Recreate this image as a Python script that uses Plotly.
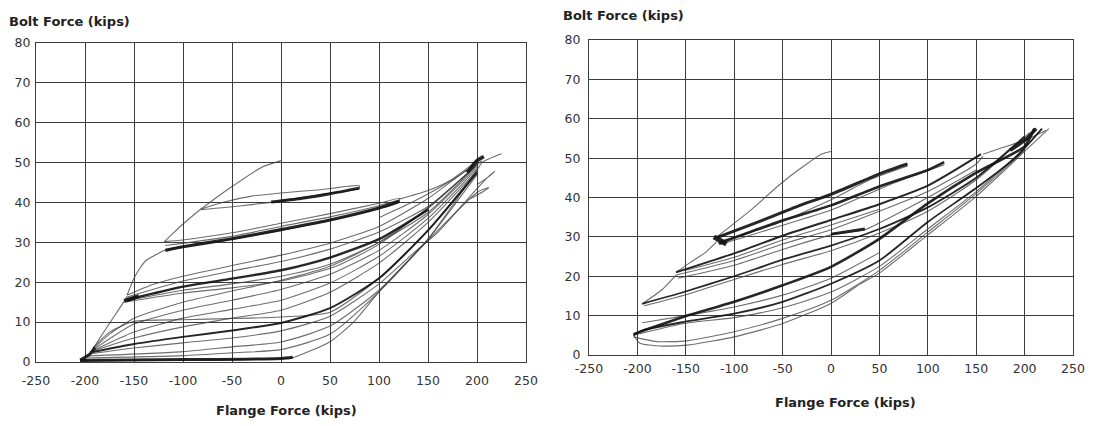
import plotly.graph_objects as go

# ---------------- axis ticks ----------------
x_tick_vals = [-250, -200, -150, -100, -50, 0, 50, 100, 150, 200, 250]
x_tick_text = ["-250", "-200", "-150", "-100", "-50", "0", "50", "100", "150", "200", "250"]
y_tick_vals = [0, 10, 20, 30, 40, 50, 60, 70, 80]
y_tick_text = ["0", "10", "20", "30", "40", "50", "60", "70", "80"]

# ---------------- LEFT chart curves (Flange force, Bolt force) ----------------
l_virgin_x = [0, -20, -50, -70, -82]
l_virgin_y = [50.5, 48.8, 44.0, 40.5, 38.3]

l_band1_x = [-82, -60, -30, 0, 40, 80, 79, 40, 0, -40, -82]
l_band1_y = [38.3, 40.0, 41.6, 42.4, 43.2, 44.2, 43.4, 42.0, 40.4, 39.2, 38.2]
l_band1_thick_x = [-10, 20, 50, 80]
l_band1_thick_y = [40.1, 41.0, 42.2, 43.6]

l_trans1_x = [-82, -92, -100, -110, -119]
l_trans1_y = [38.3, 36.3, 34.6, 32.3, 30.2]

l_band2_x = [-119, -100, -50, 0, 50, 100, 121, 120, 100, 50, 0, -50, -100, -119]
l_band2_y = [30.2, 30.6, 32.4, 34.8, 37.2, 39.8, 41.0, 40.0, 38.5, 35.5, 33.0, 30.8, 29.0, 28.0]
l_band2_thick_x = [-118, -100, -50, 0, 50, 100, 121]
l_band2_thick_y = [28.0, 28.9, 30.9, 33.2, 35.6, 38.6, 40.3]
l_band2_mid_x = [-118, -50, 0, 50, 100, 120]
l_band2_mid_y = [29.2, 31.5, 34.0, 36.4, 39.2, 40.6]

l_trans2_x = [-119, -130, -138, -144, -150, -157]
l_trans2_y = [28.0, 26.6, 25.4, 23.5, 21.0, 16.8]

l_b3a_x = [-157, -130, -100, -50, 0, 50, 100, 150, 175, 200]
l_b3a_y = [16.8, 19.5, 21.5, 24.2, 26.8, 29.8, 34.0, 41.0, 45.5, 50.0]
l_b3b_x = [-157, -100, -50, 0, 50, 100, 150, 200]
l_b3b_y = [16.3, 20.3, 22.8, 25.2, 28.3, 32.6, 39.0, 49.5]
l_b3c_x = [-157, -130, -100, -50, 0, 50, 100, 150]
l_b3c_y = [15.6, 17.2, 18.9, 20.9, 23.0, 26.2, 30.8, 38.2]
l_b3d_x = [-157, -100, -50, 0, 50, 100, 150, 200]
l_b3d_y = [15.4, 18.0, 19.6, 21.5, 24.5, 30.0, 37.5, 49.5]
l_b3e_x = [-157, -100, -50, 0, 54, 100, 154, 205]
l_b3e_y = [15.1, 17.3, 18.6, 20.3, 23.8, 29.5, 39.5, 50.5]
l_b3_blob_x = [-160, -145]
l_b3_blob_y = [15.3, 16.5]

l_trans3_x = [-157, -166, -175, -183, -191]
l_trans3_y = [16.4, 13.0, 9.7, 6.7, 3.6]

l_f1_x = [-192, -175, -150, -100, -50, 0, 50, 100, 150, 200]
l_f1_y = [3.2, 7.0, 11.0, 15.0, 17.8, 20.5, 24.0, 30.0, 38.5, 49.5]
l_f2_x = [-192, -150, -100, -50, 0, 50, 100, 150, 200]
l_f2_y = [3.0, 9.5, 13.0, 15.5, 18.2, 22.0, 28.0, 37.0, 49.0]
l_f3_x = [-192, -150, -100, -50, 0, 50, 100, 150, 200]
l_f3_y = [2.8, 7.5, 11.0, 13.2, 15.5, 19.8, 26.5, 36.0, 48.5]
l_f4_x = [-195, -150, -100, -50, 0, 50, 100, 150, 200]
l_f4_y = [2.5, 6.0, 8.8, 11.0, 13.0, 17.5, 24.8, 35.0, 48.0]
l_f5_x = [200, 150, 100, 50, 0, -50, -100, -150, -175, -192]
l_f5_y = [48.0, 33.0, 21.0, 12.5, 11.3, 10.9, 10.6, 10.2, 7.5, 3.5]
l_f6_x = [-192, -150, -100, -50, 0, 50, 100, 150, 200]
l_f6_y = [2.5, 4.5, 6.3, 7.9, 9.8, 13.5, 21.0, 33.0, 47.5]
l_f7_x = [-195, -150, -100, -50, 0, 50, 100, 136, 160, 200, 213, 218, 212, 200]
l_f7_y = [2.0, 3.5, 4.8, 6.0, 7.8, 11.5, 19.6, 27.5, 32.5, 43.5, 46.8, 47.8, 46.5, 44.5]
l_f8_x = [-198, -100, -50, 0, 50, 100, 150, 200, 212, 208, 190]
l_f8_y = [1.5, 2.6, 3.8, 5.0, 9.0, 18.0, 30.5, 42.5, 43.8, 43.0, 40.5]
l_f9_x = [-200, -100, -50, 0, 50, 100, 150, 200]
l_f9_y = [1.0, 1.6, 2.3, 3.1, 7.0, 17.6, 30.8, 47.0]
l_f10_x = [-205, -150, -100, -50, 0, 10, 50, 74, 100, 122, 150, 200, 205, 225]
l_f10_y = [0.3, 0.4, 0.5, 0.6, 0.8, 0.9, 5.1, 10.0, 17.6, 23.4, 30.8, 48.1, 50.0, 52.2]
l_bottom_x = [-205, -100, 0, 12]
l_bottom_y = [0.4, 0.6, 0.9, 1.2]
l_corner_x = [-205, -195, -190]
l_corner_y = [0.5, 2.0, 3.6]
l_u1_x = [200, 173, 150, 120]
l_u1_y = [50.5, 45.6, 43.0, 40.8]
l_u2_x = [200, 180, 155, 130, 100]
l_u2_y = [50.0, 46.5, 42.8, 39.6, 36.2]
l_tip_x = [190, 200, 207]
l_tip_y = [47.5, 50.5, 51.5]

# ---------------- RIGHT chart curves ----------------
r_virgin_x = [0, -10, -32, -52, -82, -118]
r_virgin_y = [51.7, 51.0, 47.3, 43.5, 37.0, 30.0]
r_blob_x = [-121, -108]
r_blob_y = [30.0, 28.2]

r_1a_x = [-118, -75, -30, 0, 52, 79]
r_1a_y = [29.8, 33.8, 38.2, 40.8, 46.2, 48.5]
r_1b_x = [-116, -57, 0, 52, 100, 117]
r_1b_y = [28.3, 33.6, 38.0, 43.0, 47.0, 49.0]
r_1c_x = [79, 40, 0, -60, -116]
r_1c_y = [48.0, 44.5, 39.4, 33.0, 28.8]
r_1d_x = [117, 60, 0, -60, -115]
r_1d_y = [48.3, 43.2, 36.8, 32.2, 28.0]

r_2a_x = [-160, -100, -50, 0, 50, 100, 155]
r_2a_y = [21.0, 25.8, 30.3, 34.3, 38.3, 43.0, 51.0]
r_2b_x = [-160, -100, -50, 0, 50, 100, 150, 157]
r_2b_y = [20.3, 24.0, 28.2, 31.8, 36.5, 41.5, 48.5, 50.5]
r_2c_x = [-158, -100, -50, 0, 35, 60, 100, 150]
r_2c_y = [19.5, 22.8, 26.8, 30.5, 31.8, 34.8, 40.0, 47.0]
r_2d_x = [-160, -146, -130, -118]
r_2d_y = [21.0, 23.4, 26.0, 28.8]
r_2e_x = [0, 35]
r_2e_y = [30.7, 32.0]
r_2f_x = [-150, -100, -50, 0, 50]
r_2f_y = [21.5, 24.8, 29.2, 33.0, 37.0]

r_3a_x = [-195, -152, -100, -50, 0, 50, 100, 150, 200]
r_3a_y = [13.0, 16.0, 20.0, 24.2, 27.8, 32.0, 37.5, 45.0, 55.5]
r_3b_x = [-193, -150, -100, -50, 0, 50, 100, 150, 205]
r_3b_y = [12.5, 15.3, 19.2, 23.0, 26.5, 31.0, 36.5, 44.5, 56.5]
r_3c_x = [-195, -175, -160]
r_3c_y = [13.0, 16.5, 20.3]

r_4a_x = [-204, -152, -100, -50, 0, 50, 100, 150, 200, 210]
r_4a_y = [5.3, 9.7, 13.5, 17.7, 22.4, 29.5, 38.5, 46.3, 53.0, 57.5]
r_4b_x = [-204, -194, -152, -100, -50, 0, 50, 100, 150, 190, 218]
r_4b_y = [5.0, 6.3, 8.4, 10.5, 13.5, 18.1, 24.0, 33.8, 42.4, 50.0, 57.5]
r_4c_x = [-204, -152, -100, -50, 0, 50, 100, 150, 200]
r_4c_y = [5.0, 8.0, 9.5, 12.0, 16.0, 22.5, 32.0, 41.5, 52.5]
r_4d_x = [-204, -200, -197, -177, -149, -100, -50, 0, 30, 50, 100, 150, 200, 225]
r_4d_y = [5.1, 3.6, 2.95, 2.3, 2.5, 4.6, 8.0, 13.1, 18.0, 20.8, 30.5, 40.3, 51.7, 57.5]
r_4e_x = [-204, -180, -149, -100, -50, 0, 50, 100, 150, 200]
r_4e_y = [4.6, 3.4, 3.6, 5.9, 9.3, 13.9, 21.5, 31.2, 41.0, 52.0]
r_4f_x = [-195, -150, -100, -50, 0, 50]
r_4f_y = [8.2, 10.0, 12.2, 15.2, 19.5, 26.0]
r_u1_x = [222, 200, 175, 157]
r_u1_y = [57.0, 54.5, 52.5, 51.0]
r_tip_x = [185, 200, 212]
r_tip_y = [52.0, 54.5, 57.5]

# ---------------- figure ----------------
THIN = "rgba(60,60,60,0.75)"
THICK = "rgba(20,20,20,0.92)"

fig = go.Figure()


def add(xs, ys, panel, width=1.1, color=THIN):
    fig.add_trace(go.Scatter(
        x=xs, y=ys, mode="lines",
        xaxis="x" if panel == 1 else "x2",
        yaxis="y" if panel == 1 else "y2",
        line=dict(color=color, width=width, shape="spline", smoothing=0.6),
        hoverinfo="skip", showlegend=False))


left_thin = [
    (l_virgin_x, l_virgin_y), (l_band1_x, l_band1_y), (l_trans1_x, l_trans1_y),
    (l_band2_x, l_band2_y), (l_band2_mid_x, l_band2_mid_y), (l_trans2_x, l_trans2_y),
    (l_b3a_x, l_b3a_y), (l_b3b_x, l_b3b_y), (l_b3d_x, l_b3d_y), (l_b3e_x, l_b3e_y),
    (l_trans3_x, l_trans3_y), (l_f1_x, l_f1_y), (l_f2_x, l_f2_y), (l_f3_x, l_f3_y),
    (l_f4_x, l_f4_y), (l_f5_x, l_f5_y), (l_f7_x, l_f7_y), (l_f8_x, l_f8_y),
    (l_f9_x, l_f9_y), (l_f10_x, l_f10_y), (l_u1_x, l_u1_y), (l_u2_x, l_u2_y),
]
for xs, ys in left_thin:
    add(xs, ys, 1)
for xs, ys, w in [
    (l_band1_thick_x, l_band1_thick_y, 3.0), (l_band2_thick_x, l_band2_thick_y, 3.2),
    (l_b3c_x, l_b3c_y, 2.4), (l_b3_blob_x, l_b3_blob_y, 4.0), (l_f6_x, l_f6_y, 2.0),
    (l_bottom_x, l_bottom_y, 3.0), (l_corner_x, l_corner_y, 3.0), (l_tip_x, l_tip_y, 3.5),
]:
    add(xs, ys, 1, w, THICK)

right_thin = [
    (r_virgin_x, r_virgin_y), (r_1c_x, r_1c_y), (r_1d_x, r_1d_y),
    (r_2b_x, r_2b_y), (r_2c_x, r_2c_y), (r_2d_x, r_2d_y), (r_2f_x, r_2f_y),
    (r_3b_x, r_3b_y), (r_3c_x, r_3c_y), (r_4c_x, r_4c_y), (r_4d_x, r_4d_y),
    (r_4e_x, r_4e_y), (r_4f_x, r_4f_y), (r_u1_x, r_u1_y),
]
for xs, ys in right_thin:
    add(xs, ys, 2)
for xs, ys, w in [
    (r_1a_x, r_1a_y, 3.0), (r_1b_x, r_1b_y, 2.6), (r_2a_x, r_2a_y, 2.0),
    (r_2e_x, r_2e_y, 3.0), (r_3a_x, r_3a_y, 1.8), (r_4a_x, r_4a_y, 2.6),
    (r_4b_x, r_4b_y, 1.8), (r_blob_x, r_blob_y, 5.0), (r_tip_x, r_tip_y, 3.5),
]:
    add(xs, ys, 2, w, THICK)

# The page body has an 8 px margin, so the figure is drawn 8 px in from the
# top-left corner; the figure is sized and laid out to compensate.
OFF = 8
W, H = 1098 - OFF, 426 - OFF


def px(v):
    return (v - OFF) / W


def py(v):
    return 1 - (v - OFF) / H


GRID = "#3c3c3c"
TICKFONT = dict(family="DejaVu Sans", size=12.5, color="#333333")


def xax(domain):
    return dict(domain=domain, range=[-250, 250], tickmode="array", tickvals=x_tick_vals,
                ticktext=x_tick_text, showgrid=True, gridcolor=GRID, gridwidth=1.3,
                zeroline=False, showline=True, linecolor=GRID, linewidth=1.3, mirror=True,
                ticks="", tickfont=TICKFONT, fixedrange=True, automargin=False)


def yax(domain, anchor):
    return dict(domain=domain, range=[0, 80], tickmode="array", tickvals=y_tick_vals,
                ticktext=y_tick_text, showgrid=True, gridcolor=GRID, gridwidth=1.3,
                zeroline=False, showline=True, linecolor=GRID, linewidth=1.3, mirror=True,
                ticks="", tickfont=TICKFONT, anchor=anchor, fixedrange=True, automargin=False)


xa1 = xax([px(36), px(526)]); xa1["anchor"] = "y"; xa1["ticklabelstandoff"] = 7
ya1 = yax([py(362), py(43)], "x"); ya1["ticklabelstandoff"] = 2
xa2 = xax([px(589), px(1073)]); xa2["anchor"] = "y2"; xa2["ticklabelstandoff"] = 2
ya2 = yax([py(355), py(40)], "x2"); ya2["ticklabelstandoff"] = 5

TITLEFONT = dict(family="DejaVu Sans", size=13, color="#222222", weight="bold")
ann = [
    dict(text="Bolt Force (kips)", x=px(7), y=py(22), xanchor="left", yanchor="middle"),
    dict(text="Bolt Force (kips)", x=px(561), y=py(15.5), xanchor="left", yanchor="middle"),
    dict(text="Flange Force (kips)", x=px(286), y=py(410), xanchor="center", yanchor="middle"),
    dict(text="Flange Force (kips)", x=px(845), y=py(402), xanchor="center", yanchor="middle"),
]
for a in ann:
    a.update(xref="paper", yref="paper", showarrow=False, font=TITLEFONT)

fig.update_layout(
    width=W, height=H, margin=dict(l=0, r=0, t=0, b=0, pad=0, autoexpand=False),
    paper_bgcolor="white", plot_bgcolor="white",
    xaxis=xa1, yaxis=ya1, xaxis2=xa2, yaxis2=ya2,
    annotations=ann, showlegend=False,
)

fig.write_html("out.html")
